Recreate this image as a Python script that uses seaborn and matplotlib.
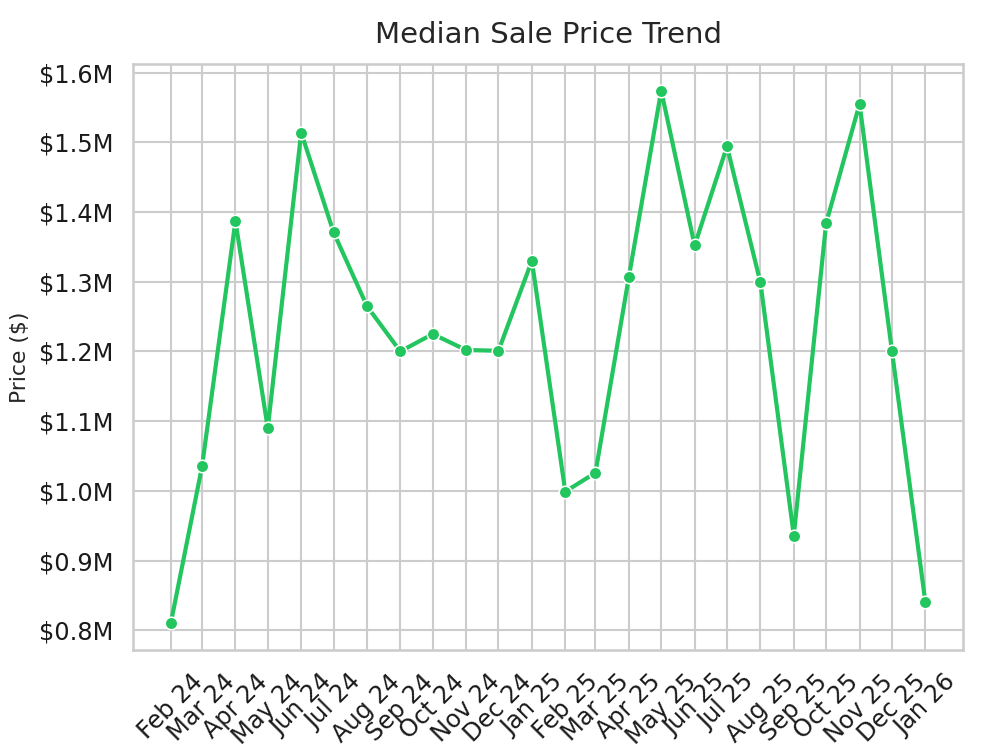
import pandas as pd
import matplotlib
matplotlib.use('Agg')
import matplotlib.pyplot as plt
import matplotlib.dates as mdates
from matplotlib.ticker import FuncFormatter
import seaborn as sns

sns.set_theme(style='whitegrid')

# monthly median sale prices
months = ['2024-02', '2024-03', '2024-04', '2024-05', '2024-06', '2024-07',
          '2024-08', '2024-09', '2024-10', '2024-11', '2024-12', '2025-01',
          '2025-02', '2025-03', '2025-04', '2025-05', '2025-06', '2025-07',
          '2025-08', '2025-09', '2025-10', '2025-11', '2025-12', '2026-01']
median_price = [810000, 1035000, 1387000, 1090000, 1514000, 1371000,
                1265000, 1200000, 1225000, 1202000, 1201000, 1330000,
                999000, 1026000, 1307000, 1574000, 1352000, 1494000,
                1299000, 936000, 1384000, 1555000, 1201000, 841000]

df = pd.DataFrame({'month': pd.to_datetime(months), 'price': median_price})

fig = plt.figure(figsize=(6.56, 5.04), dpi=150)
ax = fig.add_axes([0.1352, 0.1402, 0.8435, 0.7751])

sns.lineplot(data=df, x='month', y='price', marker='o', color='#22c55e',
             linewidth=2, markersize=6, ax=ax)

ax.set_xticks(df['month'])
ax.xaxis.set_major_formatter(mdates.DateFormatter('%b %y'))
plt.setp(ax.get_xticklabels(), rotation=45)
ax.yaxis.set_major_formatter(FuncFormatter(lambda v, p: f'${v/1e6:.1f}M'))

ax.tick_params(axis='both', labelsize=11.5, labelcolor='#1a1a1a')
ax.set_xlabel('')
ax.set_ylabel('Price ($)', fontsize=10.5)
ax.set_title('Median Sale Price Trend', fontsize=14, pad=10)

fig.savefig('out.png', dpi=150)
